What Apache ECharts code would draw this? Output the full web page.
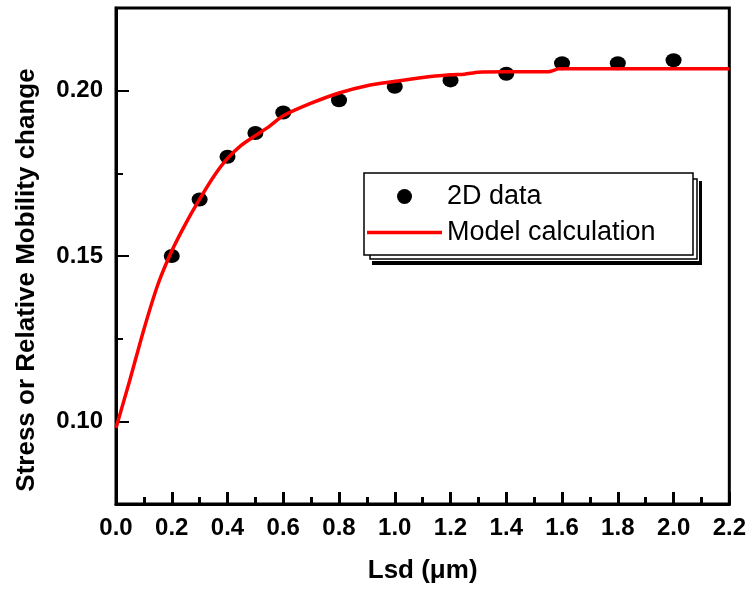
<!DOCTYPE html>
<html>
<head>
<meta charset="utf-8">
<script src="https://cdn.jsdelivr.net/npm/echarts@6/dist/echarts.min.js"></script>
<style>
  html, body { margin: 0; padding: 0; background: #fff; }
  #chart { width: 749px; height: 592px; }
</style>
</head>
<body>
<div id="chart"></div>
<script>
// Measured points (Lsd in µm)
const dataX = [0.2, 0.3, 0.4, 0.5, 0.6, 0.8, 1.0, 1.2, 1.4, 1.6, 1.8, 2.0];
const dataY = [0.150, 0.1671, 0.180, 0.1872, 0.1934, 0.1971, 0.2012, 0.2031, 0.2051, 0.2083, 0.2083, 0.2092];

// Model curve samples
const modelX = [0, 0.05, 0.1, 0.15, 0.2, 0.25, 0.3, 0.35, 0.4, 0.45, 0.5, 0.55, 0.6, 0.7, 0.8, 0.9, 1.0, 1.1, 1.2, 1.25, 1.3, 1.4, 1.55, 1.59, 1.8, 2.0, 2.2];
const modelY = [0.098, 0.1126, 0.1278, 0.1413, 0.1515, 0.1598, 0.1672, 0.1740, 0.1795, 0.1835, 0.1864, 0.1892, 0.1924, 0.1962, 0.1993, 0.2015, 0.2028, 0.2040, 0.2048, 0.2050, 0.2056, 0.2057, 0.2057, 0.2066, 0.2066, 0.2066, 0.2066];

// Axis ticks and labels
const xTickLabels = ['0.0', '0.2', '0.4', '0.6', '0.8', '1.0', '1.2', '1.4', '1.6', '1.8', '2.0', '2.2'];
const yMajorTicks = [0.10, 0.15, 0.20];
const yMajorLabels = ['0.10', '0.15', '0.20'];
const yMinorTicks = [0.125, 0.175];

const seriesNames = ['2D data', 'Model calculation'];
const xTitle = 'Lsd (\u03bcm)';
const yTitle = 'Stress or Relative Mobility change';

const FONT = 'Liberation Sans, Arial, Helvetica, sans-serif';

const chart = echarts.init(document.getElementById('chart'), null, { renderer: 'canvas' });

const scatterData = dataX.map((x, i) => [x, dataY[i]]);
const modelData = modelX.map((x, i) => [x, modelY[i]]);

// Legend frame with offset shadow
const bx = 364, by = 173, bw = 329, bh = 82;

chart.setOption({
  animation: false,
  backgroundColor: '#fff',
  grid: {
    left: 116, right: 19, top: 8, bottom: 88,
    show: true, borderColor: '#000', borderWidth: 3, backgroundColor: 'transparent'
  },
  xAxis: {
    type: 'value', min: 0, max: 2.2, interval: 0.2,
    name: xTitle, nameLocation: 'middle', nameGap: 54,
    nameTextStyle: { fontFamily: FONT, fontWeight: 'bold', fontSize: 26, color: '#000' },
    axisLine: { show: true, lineStyle: { color: '#000', width: 3 } },
    axisTick: { show: true, inside: true, length: 12, lineStyle: { color: '#000', width: 3 } },
    minorTick: { show: true, splitNumber: 2, length: 7, lineStyle: { color: '#000', width: 3 } },
    splitLine: { show: false },
    axisLabel: {
      margin: 12, fontFamily: FONT, fontWeight: 'bold', fontSize: 24, color: '#000',
      formatter: (v) => xTickLabels[Math.round(v / 0.2)] ?? ''
    }
  },
  yAxis: [
    {
      type: 'value', min: 0.075, max: 0.225,
      axisLine: { show: true, lineStyle: { color: '#000', width: 3 } },
      axisTick: { show: true, inside: true, length: 13, customValues: yMajorTicks, lineStyle: { color: '#000', width: 2 } },
      splitLine: { show: false },
      axisLabel: {
        margin: 13, fontFamily: FONT, fontWeight: 'bold', fontSize: 24, color: '#000',
        customValues: yMajorTicks,
        formatter: (v) => {
          const i = yMajorTicks.findIndex(t => Math.abs(t - v) < 1e-9);
          return i >= 0 ? yMajorLabels[i] : '';
        }
      }
    },
    {
      type: 'value', min: 0.075, max: 0.225, position: 'left',
      axisLine: { show: false },
      axisTick: { show: true, inside: true, length: 7, customValues: yMinorTicks, lineStyle: { color: '#000', width: 2 } },
      splitLine: { show: false },
      axisLabel: { show: false }
    }
  ],
  legend: {
    z: 20,
    orient: 'vertical', left: 367, top: 183,
    itemWidth: 75, itemHeight: 15, itemGap: 9,
    padding: 0,
    lineStyle: { width: 3.5 },
    textStyle: { fontFamily: FONT, fontSize: 27, color: '#000' },
    data: [
      { name: seriesNames[0], icon: 'circle' },
      { name: seriesNames[1], icon: 'path://M0,0H75V3.5H0Z' }
    ]
  },
  graphic: [
    { type: 'rect', z: 5, shape: { x: bx + 8, y: by + 8, width: bw + 1, height: bh + 2 }, style: { fill: '#000' } },
    { type: 'rect', z: 5, shape: { x: bx, y: by, width: bw + 6, height: bh + 6 }, style: { fill: '#fff' } },
    { type: 'rect', z: 5, shape: { x: bx + 6, y: by + 6, width: bw - 2, height: bh - 2 }, style: { fill: null, stroke: '#000', lineWidth: 1.5 } },
    { type: 'rect', z: 6, shape: { x: bx, y: by, width: bw, height: bh }, style: { fill: '#fff', stroke: '#000', lineWidth: 1.5 } },
    {
      type: 'text', z: 10, x: 27, y: 280, rotation: Math.PI / 2,
      style: {
        text: yTitle, font: 'bold 26px ' + FONT, fill: '#000',
        align: 'center', verticalAlign: 'middle'
      }
    }
  ],
  series: [
    {
      name: seriesNames[0], type: 'scatter', z: 3,
      symbol: 'circle', symbolSize: [16, 14],
      itemStyle: { color: '#000', opacity: 1 },
      data: scatterData
    },
    {
      name: seriesNames[1], type: 'line', z: 4,
      showSymbol: false, symbol: 'none', smooth: 0.25,
      lineStyle: { color: '#ff0000', width: 3.5 },
      itemStyle: { color: '#ff0000' },
      data: modelData
    }
  ]
});
</script>
</body>
</html>
